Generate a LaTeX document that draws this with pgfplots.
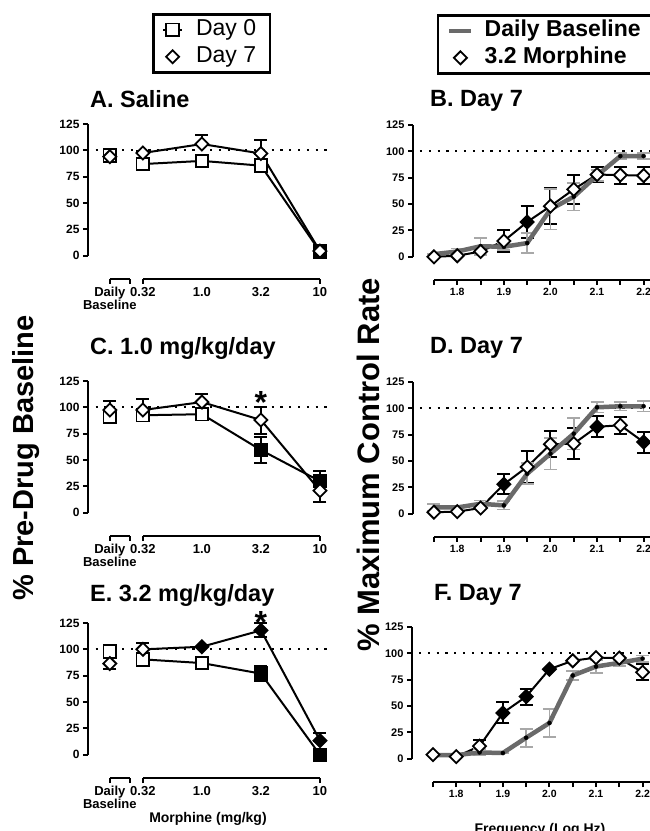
\documentclass[border=0pt]{standalone}
\usepackage{pgfplots}
\usepackage{pgfplotstable}
\pgfplotsset{compat=1.18}
\usepackage{fontspec}
\setmainfont{Liberation Sans}

\definecolor{basegray}{HTML}{6A6A6A}
\definecolor{errgray}{HTML}{A8A8A8}
\newcommand{\fs}[1]{\fontsize{#1}{#1}\selectfont}

\pgfplotsset{
  keep if/.style 2 args={x filter/.expression={\thisrow{#1}==#2 ? x : nan}},
  sq/.style={mark=square*, mark size=6.3pt},
  dm/.style={mark=square*, mark size=4.6pt},
  openm/.style={mark options={fill=white, draw=black, line width=1.8pt}},
  fillm/.style={mark options={fill=black, draw=black, line width=1.8pt}},
  opend/.style={mark options={fill=white, draw=black, line width=1.8pt, rotate=45}},
  filld/.style={mark options={fill=black, draw=black, line width=1.8pt, rotate=45}},
  ebars/.style={only marks, mark=none, forget plot,
    error bars/.cd, y dir=both, y explicit,
    error bar style={#1},
    error mark options={#1, mark size=6.5pt, rotate=90}},
  stubleg/.style={legend image code/.code={\draw[##1, mark=none] (0pt,0pt) -- (19pt,0pt); \draw[##1, draw=none] plot coordinates {(9.5pt,0pt)};}},
  markleg/.style={legend image code/.code={\path[draw=none] (0pt,0pt) (19pt,0pt); \draw[##1, draw=none] plot coordinates {(9.5pt,0pt)};}},
  markwleg/.style={legend image code/.code={\path[draw=none] (0pt,0pt) (22pt,0pt); \draw[##1, draw=none] plot coordinates {(11pt,0pt)};}},
  lineleg/.style={legend image code/.code={\draw[##1] (0pt,0pt) -- (22pt,0pt);}},
  panel/.style={
    scale only axis, height=155pt, clip=false,
    axis lines*=left,
    x axis line style={draw=none}, y axis line style={draw=none},
    ymin=-22, ymax=125,
    ytick={0,25,50,75,100,125}, yticklabels={0,25,50,75,100,125},
    tick align=outside, major tick length=5pt, minor tick length=5pt,
    tick style={black, line width=2pt},
  },
  leftpanel/.style={panel, width=242pt, xmin=-0.93, xmax=3.17,
    xtick={-0.56,-0.22,0,3}, xticklabels={Daily\\Baseline,,0.32,10},
    extra x ticks={1,2}, extra x tick labels={1.0,3.2},
    extra x tick style={tick style={draw=none}},
    x tick label style={font=\bfseries\fs{13}, align=center},
    y tick label style={font=\bfseries\fs{12}},
  },
  rightpanel/.style={panel, width=244.6pt, xmin=1.705, xmax=2.23,
    xtick={1.8,1.9,2.0,2.1,2.2}, xticklabels={1.8,1.9,2.0,2.1,2.2},
    minor xtick={1.75,1.85,1.95,2.05,2.15},
    x tick label style={font=\bfseries\fs{10.5}},
    y tick label style={font=\bfseries\fs{11}},
  },
  legbox/.style={anchor=north west, draw=black, line width=2.5pt,
    inner xsep=9pt, inner ysep=4pt, row sep=4pt, column sep=12pt,
    nodes={inner sep=1pt, text height=16pt, text depth=5pt}},
}

\pgfplotstableread{
x y ep em f l
-0.56 95 0 0 0 0
0 87 0 0 0 1
1 90 0 0 0 1
2 85.5 3 4 0 1
3 4 0 0 1 1
}\tAzero
\pgfplotstableread{
x y ep em f l
-0.56 94 0 0 0 0
0 97.5 2 0 0 1
1 106 9 0 0 1
2 97 13 0 0 1
3 4.5 0 0 0 1
}\tAseven
\pgfplotstableread{
x y ep em f l
-0.56 91 0 3 0 0
0 92.5 0 2 0 1
1 93.5 0 0 0 1
2 59.5 12 12 1 1
3 30 10 5 1 1
}\tCzero
\pgfplotstableread{
x y ep em f l
-0.56 97.5 9 0 0 0
0 97.5 10 0 0 1
1 105 8 0 0 1
2 88 12 13 0 1
3 21 5 11 0 1
}\tCseven
\pgfplotstableread{
x y ep em f l
-0.56 98 0 0 0 0
0 90.5 0 0 0 1
1 87 0 0 0 1
2 77 7 7 1 1
3 0 0 0 1 1
}\tEzero
\pgfplotstableread{
x y ep em f l
-0.56 86.5 0 5 0 0
0 100 6 0 0 1
1 102.5 0 0 1 1
2 118 7 6 1 1
3 13.5 7 0 1 1
}\tEseven

\pgfplotstableread{
x y e f
1.75 0 0 0
1.80 1 0 0
1.85 5 0 0
1.90 15 10 0
1.95 33 15 1
2.00 48 17 0
2.05 64 14 0
2.10 78 7 0
2.15 77.5 8 0
2.20 77 8 0
}\tBm
\pgfplotstableread{
x y e
1.75 2.5 0
1.80 5 3
1.85 10 8
1.90 9.5 3
1.95 13 9.5
2.00 45 19
2.05 57 13
2.10 77 5
2.15 95.5 3
2.20 95.5 3
}\tBb
\pgfplotstableread{
x y e f
1.75 1.5 0 0
1.80 2 0 0
1.85 5.5 0 0
1.90 28 9.5 1
1.95 44.5 15 0
2.00 66 12.5 0
2.05 66.5 15 0
2.10 82.5 10 1
2.15 84 8 0
2.20 68 10 1
}\tDm
\pgfplotstableread{
x y e
1.75 6 3
1.80 6 2
1.85 9.5 3
1.90 8 4
1.95 38 10
2.00 57 15
2.05 76 15
2.10 101 5
2.15 102 4
2.20 102 5
}\tDb
\pgfplotstableread{
x y e f
1.75 4 0 0
1.80 2 0 0
1.85 12 6 0
1.90 43.5 10 1
1.95 59 7.5 1
2.00 85 0 1
2.05 93 0 0
2.10 96 0 0
2.15 95.5 0 0
2.20 82 7.5 0
}\tFm
\pgfplotstableread{
x y e
1.75 3.5 0
1.80 3.5 0
1.85 6 3
1.90 5.5 0
1.95 20 8.5
2.00 34 13.5
2.05 79 4.5
2.10 87.5 6
2.15 91 3
2.20 95 3
}\tFb

% #1 table, #2 mark shape style, #3 open style, #4 filled style
\newcommand{\leftseries}[4]{%
  \addplot[black, line width=2pt, forget plot, keep if={l}{1}] table[x=x,y=y] {#1};
  \addplot[ebars={black, line width=2pt}] table[x=x,y=y,y error plus=ep,y error minus=em] {#1};
  \addplot[only marks, #2, #3, forget plot, keep if={f}{0}] table[x=x,y=y] {#1};
  \addplot[only marks, #2, #4, forget plot, keep if={f}{1}] table[x=x,y=y] {#1};
}
\newcommand{\rightseries}[2]{%
  \addplot[black, line width=2pt, forget plot] table[x=x,y=y] {#1};
  \addplot[ebars={black, line width=2pt}] table[x=x,y=y,y error=e] {#1};
  \addplot[ebars={errgray, line width=1.7pt}] table[x=x,y=y,y error=e] {#2};
  \addplot[basegray, line width=4.5pt, forget plot] table[x=x,y=y] {#2};
  \addplot[only marks, dm, opend, forget plot, keep if={f}{0}] table[x=x,y=y] {#1};
  \addplot[only marks, dm, filld, forget plot, keep if={f}{1}] table[x=x,y=y] {#1};
}
\newcommand{\leftframe}{%
  \addplot[black, line width=2.2pt, dash pattern=on 2.2pt off 6.6pt, forget plot] coordinates {(-0.80,100) (3.17,100)};
  \draw[line width=2.5pt] (axis cs:-0.93,0) -- (axis cs:-0.93,125);
  \draw[line width=2.5pt] (axis cs:-0.56,-22) -- (axis cs:-0.22,-22);
  \draw[line width=2.5pt] (axis cs:0,-22) -- (axis cs:3,-22);
}
\newcommand{\rightframe}{%
  \addplot[black, line width=2.2pt, dash pattern=on 2.2pt off 6.6pt, forget plot] coordinates {(1.72,100) (2.23,100)};
  \draw[line width=2.5pt] (axis cs:1.705,0) -- (axis cs:1.705,125);
  \draw[line width=2.5pt] (axis cs:1.75,-22) -- (axis cs:2.23,-22);
}

\begin{document}
\begin{tikzpicture}
\useasboundingbox (0pt,0pt) rectangle (649pt,831pt);

% ---- A
\begin{axis}[leftpanel, at={(88pt,552pt)}, anchor=south west,
  legend cell align=left,
  legend style={legbox, at={(axis description cs:0.2645,1.716)}, font=\fs{23}}]
\leftframe
\leftseries{\tAzero}{sq}{openm}{fillm}
\leftseries{\tAseven}{dm}{opend}{filld}
\addlegendimage{stubleg, black, line width=1.8pt, mark=square*, mark size=6.3pt, mark options={fill=white, draw=black, line width=1.8pt}}
\addlegendentry{Day 0\hspace*{4pt}}
\addlegendimage{markleg, black, mark=square*, mark size=4.6pt, mark options={fill=white, draw=black, line width=1.8pt, rotate=45}}
\addlegendentry{Day 7\hspace*{4pt}}
\end{axis}

% ---- C
\begin{axis}[leftpanel, at={(88pt,295pt)}, anchor=south west]
\leftframe
\leftseries{\tCzero}{sq}{openm}{fillm}
\leftseries{\tCseven}{dm}{opend}{filld}
\node[anchor=base, font=\bfseries\fs{32}, inner sep=0pt, yshift=-17pt] at (axis cs:2,110) {*};
\end{axis}

% ---- E
\begin{axis}[leftpanel, at={(88pt,53pt)}, anchor=south west]
\leftframe
\leftseries{\tEzero}{sq}{openm}{fillm}
\leftseries{\tEseven}{dm}{opend}{filld}
\node[anchor=base, font=\bfseries\fs{32}, inner sep=0pt, yshift=-17pt] at (axis cs:2,131) {*};
\end{axis}

% ---- B
\begin{axis}[rightpanel, at={(413pt,551pt)}, anchor=south west,
  legend cell align=left,
  legend style={legbox, at={(axis description cs:0.098,1.716)}, font=\bfseries\fs{23}, column sep=10pt}]
\rightframe
\rightseries{\tBm}{\tBb}
\addlegendimage{lineleg, basegray, line width=4.5pt}
\addlegendentry{Daily Baseline\hspace*{30pt}}
\addlegendimage{markwleg, black, mark=square*, mark size=4.6pt, mark options={fill=white, draw=black, line width=1.8pt, rotate=45}}
\addlegendentry{3.2 Morphine}
\end{axis}

% ---- D
\begin{axis}[rightpanel, at={(413pt,294pt)}, anchor=south west]
\rightframe
\rightseries{\tDm}{\tDb}
\end{axis}

% ---- F
\begin{axis}[rightpanel, at={(412pt,49pt)}, anchor=south west]
\rightframe
\rightseries{\tFm}{\tFb}
\end{axis}

\begin{scope}[every node/.style={anchor=base west, font=\bfseries\fs{23.5}, inner sep=0pt}]
\node at (90pt,723pt) {A. Saline};
\node at (430pt,724pt) {B. Day 7};
\node at (90pt,476pt) {C. 1.0 mg/kg/day};
\node at (430pt,477pt) {D. Day 7};
\node at (90pt,229pt) {E. 3.2 mg/kg/day};
\node at (434pt,230pt) {F. Day 7};
\end{scope}

\node[rotate=90, font=\bfseries\fs{29}, inner sep=0pt] at (26pt,373pt) {\% Pre-Drug Baseline};
\node[rotate=90, font=\bfseries\fs{31}, inner sep=0pt] at (368pt,366pt) {\% Maximum Control Rate};
\node[anchor=base, font=\bfseries\fs{14}, inner sep=0pt] at (208pt,9pt) {Morphine (mg/kg)};
\node[anchor=base, font=\bfseries\fs{14}, inner sep=0pt] at (540pt,-2pt) {Frequency (Log Hz)};
\end{tikzpicture}
\end{document}
